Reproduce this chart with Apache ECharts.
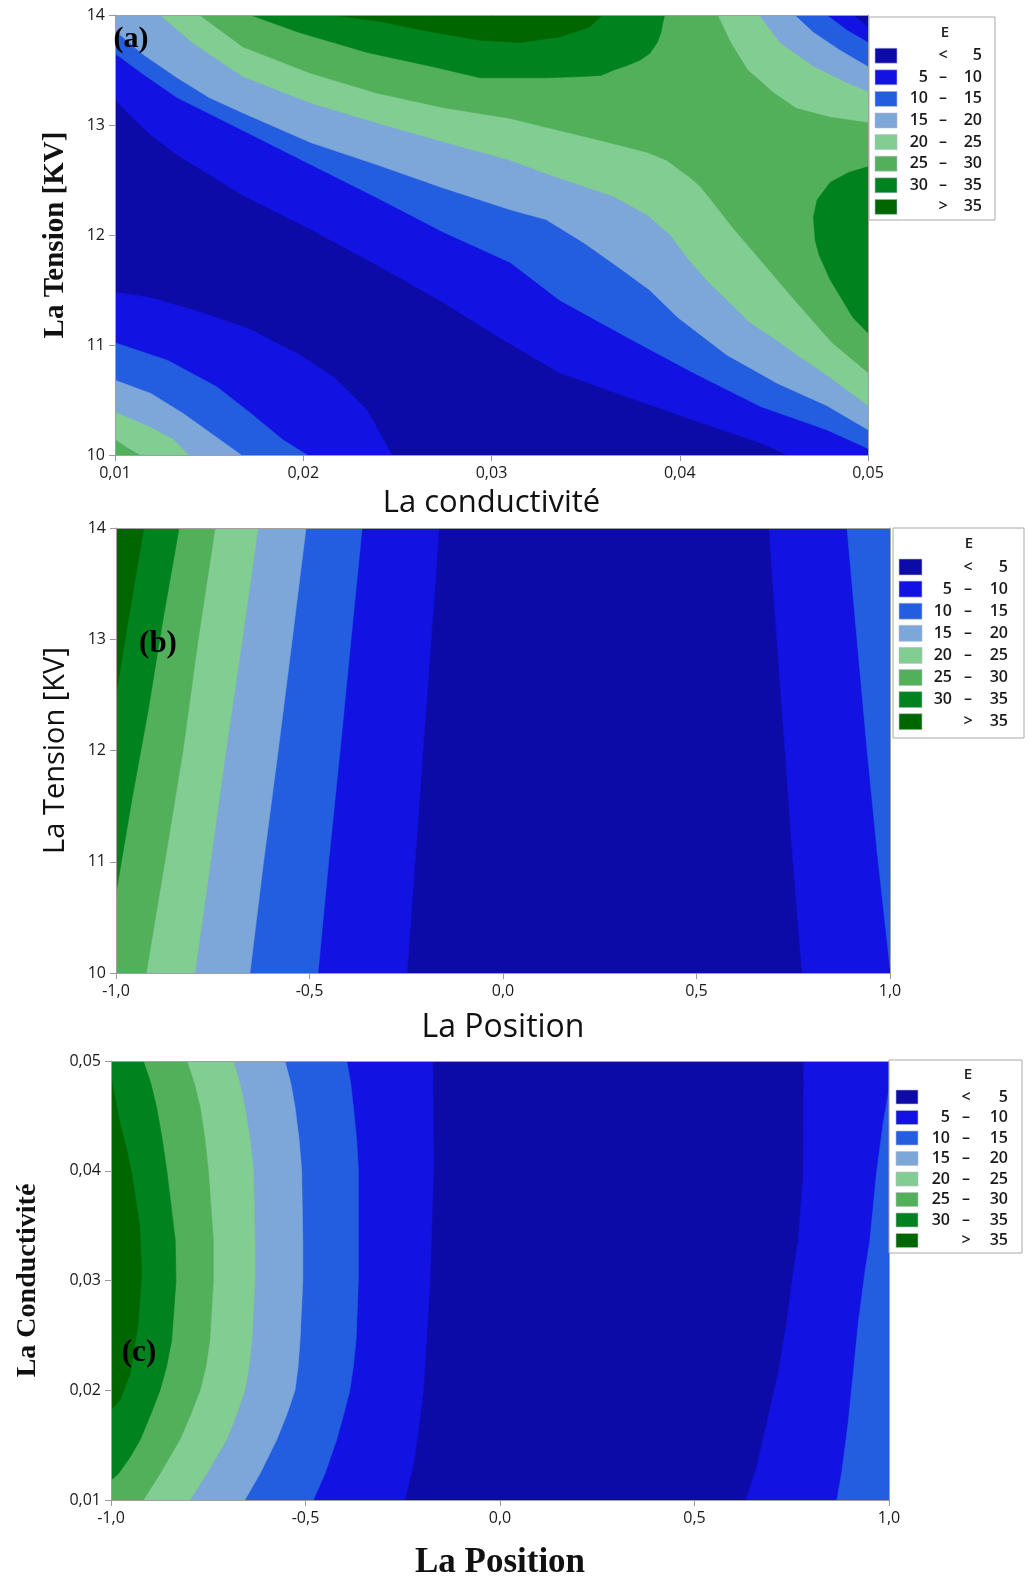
<!DOCTYPE html>
<html><head><meta charset="utf-8">
<script src="https://cdn.jsdelivr.net/npm/echarts@6/dist/echarts.min.js"></script>
<style>html,body{margin:0;padding:0;background:#fff}#c{width:1029px;height:1579px}</style>
</head><body><div id="c"></div>
<script>
// ---------- legend / levels ----------
const legendTitle = 'E';
const levels = [5, 10, 15, 20, 25, 30, 35];
const bandColors = ['#0D0BA8', '#1212E2', '#235EE0', '#7DA6D9', '#82CD92', '#52B05B', '#00821F', '#006700'];

// ---------- panel (a): conductivité (x) vs tension (y) ----------
const aXRange = [0.01, 0.05], aXStep = 0.01;
const aYRange = [10, 14], aYStep = 1;
const aC5lo  = [[0.0100,11.48],[0.0119,11.43],[0.0145,11.30],[0.0172,11.14],[0.0198,10.91],[0.0216,10.71],[0.0234,10.41],[0.0247,10.00]];
const aC10lo = [[0.0100,11.02],[0.0128,10.86],[0.0154,10.62],[0.0172,10.38],[0.0189,10.14],[0.0202,10.00]];
const aC15lo = [[0.0100,10.68],[0.0119,10.56],[0.0136,10.38],[0.0154,10.16],[0.0167,10.00]];
const aC20lo = [[0.0100,10.39],[0.0119,10.25],[0.0131,10.14],[0.0139,10.00]];
const aC25lo = [[0.0100,10.14],[0.0106,10.07],[0.0113,10.00]];
const aC5up  = [[0.0100,13.23],[0.0108,13.09],[0.0119,12.91],[0.0133,12.73],[0.0150,12.55],[0.0168,12.36],[0.0204,12.05],[0.0239,11.73],[0.0274,11.39],[0.0305,11.06],[0.0336,10.75],[0.0372,10.53],[0.0407,10.32],[0.0443,10.11],[0.0457,10.00]];
const aC10up = [[0.0100,13.65],[0.0116,13.45],[0.0133,13.25],[0.0168,12.95],[0.0204,12.64],[0.0239,12.34],[0.0274,12.03],[0.0310,11.75],[0.0336,11.41],[0.0372,11.07],[0.0407,10.75],[0.0443,10.44],[0.0478,10.23],[0.0500,10.06]];
const aC15up = [[0.0100,13.86],[0.0115,13.64],[0.0133,13.43],[0.0150,13.25],[0.0168,13.11],[0.0204,12.84],[0.0239,12.64],[0.0274,12.43],[0.0310,12.23],[0.0329,12.14],[0.0349,11.93],[0.0368,11.70],[0.0384,11.50],[0.0399,11.25],[0.0425,10.91],[0.0452,10.65],[0.0478,10.45],[0.0500,10.23]];
const aC20up = [[0.0124,14.00],[0.0141,13.75],[0.0168,13.44],[0.0204,13.20],[0.0239,13.02],[0.0274,12.85],[0.0310,12.68],[0.0329,12.56],[0.0365,12.35],[0.0383,12.18],[0.0395,12.00],[0.0405,11.77],[0.0416,11.56],[0.0427,11.38],[0.0437,11.21],[0.0451,11.05],[0.0464,10.89],[0.0478,10.73],[0.0500,10.45]];
const aC25up = [[0.0145,14.00],[0.0168,13.71],[0.0204,13.47],[0.0239,13.29],[0.0274,13.16],[0.0310,13.06],[0.0329,12.98],[0.0358,12.86],[0.0383,12.75],[0.0393,12.68],[0.0400,12.59],[0.0405,12.53],[0.0411,12.44],[0.0418,12.29],[0.0428,12.07],[0.0446,11.71],[0.0464,11.35],[0.0481,11.02],[0.0500,10.75]];
const aC30top = [[0.0172,14.00],[0.0198,13.84],[0.0234,13.66],[0.0269,13.53],[0.0294,13.43],[0.0311,13.43],[0.0329,13.43],[0.0347,13.44],[0.0358,13.45],[0.0365,13.50],[0.0372,13.54],[0.0379,13.59],[0.0384,13.65],[0.0388,13.75],[0.0390,13.84],[0.0391,13.93],[0.0392,14.00]];
const aC30lobe = [[0.0500,12.62],[0.0490,12.57],[0.0480,12.48],[0.0473,12.32],[0.0471,12.16],[0.0472,11.95],[0.0474,11.82],[0.0480,11.59],[0.0485,11.45],[0.0492,11.25],[0.0500,11.11]];
const aC35 = [[0.0216,14.00],[0.0241,13.94],[0.0267,13.85],[0.0294,13.77],[0.0315,13.75],[0.0336,13.80],[0.0352,13.89],[0.0359,14.00]];
const aC25ur = [[0.0420,14.00],[0.0427,13.75],[0.0436,13.50],[0.0450,13.29],[0.0462,13.15],[0.0480,13.07],[0.0500,13.02]];
const aC20ur = [[0.0442,14.00],[0.0453,13.75],[0.0471,13.53],[0.0489,13.38],[0.0500,13.30]];
const aC15ur = [[0.0461,14.00],[0.0471,13.84],[0.0485,13.68],[0.0500,13.53]];
const aC10ur = [[0.0478,14.00],[0.0489,13.86],[0.0500,13.75]];
const aC5ur  = [[0.0492,14.00],[0.0500,13.89]];

// ---------- panel (b): position (x) vs tension (y) ----------
const bXRange = [-1, 1], bXStep = 0.5;
const bYRange = [10, 14], bYStep = 1;
const bC35 = [[-0.928,14.00],[-0.951,13.53],[-0.977,12.99],[-1.000,12.50]];
const bC30 = [[-0.837,14.00],[-0.879,13.17],[-0.917,12.36],[-0.959,11.56],[-1.000,10.72]];
const bC25 = [[-0.744,14.00],[-0.788,12.99],[-0.827,12.00],[-0.873,11.02],[-0.922,10.00]];
const bC20 = [[-0.633,14.00],[-0.674,12.99],[-0.716,12.00],[-0.755,11.02],[-0.796,10.00]];
const bC15 = [[-0.509,14.00],[-0.545,12.99],[-0.581,12.00],[-0.618,11.02],[-0.654,10.00]];
const bC10L = [[-0.364,14.00],[-0.393,12.99],[-0.421,12.00],[-0.450,11.02],[-0.478,10.00]];
const bC5L  = [[-0.165,14.00],[-0.186,12.99],[-0.207,12.00],[-0.227,11.02],[-0.248,10.00]];
const bC5R  = [[0.687,14.00],[0.708,12.99],[0.729,12.00],[0.749,11.02],[0.773,10.00]];
const bC10R = [[0.889,14.00],[0.915,12.99],[0.941,12.00],[0.969,11.02],[1.000,10.05]];

// ---------- panel (c): position (x) vs conductivité (y) ----------
const cXRange = [-1, 1], cXStep = 0.5;
const cYRange = [0.01, 0.05], cYStep = 0.01;
const cC35 = [[-1.000,0.0486],[-0.977,0.0443],[-0.960,0.0420],[-0.947,0.0398],[-0.927,0.0352],[-0.921,0.0307],[-0.930,0.0261],[-0.951,0.0215],[-0.977,0.0191],[-1.000,0.0182]];
const cC30 = [[-0.917,0.0500],[-0.898,0.0480],[-0.883,0.0458],[-0.869,0.0430],[-0.857,0.0401],[-0.835,0.0337],[-0.833,0.0300],[-0.844,0.0246],[-0.857,0.0222],[-0.874,0.0200],[-0.898,0.0178],[-0.925,0.0155],[-0.951,0.0139],[-0.981,0.0124],[-1.000,0.0118]];
const cC25 = [[-0.805,0.0500],[-0.786,0.0480],[-0.771,0.0458],[-0.759,0.0430],[-0.750,0.0401],[-0.737,0.0337],[-0.737,0.0300],[-0.746,0.0246],[-0.756,0.0222],[-0.771,0.0200],[-0.795,0.0178],[-0.823,0.0155],[-0.874,0.0124],[-0.917,0.0100]];
const cC20 = [[-0.686,0.0500],[-0.669,0.0480],[-0.656,0.0458],[-0.643,0.0430],[-0.634,0.0401],[-0.630,0.0337],[-0.630,0.0300],[-0.638,0.0246],[-0.645,0.0222],[-0.656,0.0200],[-0.677,0.0178],[-0.703,0.0155],[-0.754,0.0124],[-0.797,0.0100]];
const cC15 = [[-0.553,0.0500],[-0.538,0.0480],[-0.527,0.0458],[-0.517,0.0430],[-0.510,0.0401],[-0.507,0.0337],[-0.507,0.0300],[-0.514,0.0246],[-0.519,0.0222],[-0.527,0.0200],[-0.548,0.0178],[-0.574,0.0155],[-0.617,0.0124],[-0.656,0.0100]];
const cC10L = [[-0.394,0.0500],[-0.384,0.0480],[-0.377,0.0458],[-0.369,0.0430],[-0.364,0.0401],[-0.364,0.0337],[-0.364,0.0300],[-0.370,0.0246],[-0.377,0.0222],[-0.386,0.0200],[-0.402,0.0178],[-0.420,0.0155],[-0.450,0.0124],[-0.480,0.0100]];
const cC5L  = [[-0.173,0.0500],[-0.171,0.0401],[-0.180,0.0300],[-0.197,0.0200],[-0.219,0.0139],[-0.244,0.0100]];
const cC5R  = [[0.781,0.0500],[0.780,0.0398],[0.767,0.0337],[0.754,0.0307],[0.737,0.0261],[0.715,0.0215],[0.686,0.0170],[0.660,0.0130],[0.632,0.0100]];
const cC10R = [[1.000,0.0474],[0.985,0.0443],[0.968,0.0398],[0.951,0.0337],[0.938,0.0307],[0.921,0.0261],[0.908,0.0215],[0.895,0.0170],[0.878,0.0124],[0.866,0.0100]];

// ---------- texts ----------
const panelLabels = ['(a)', '(b)', '(c)'];
const xNames = ['La conductivité', 'La Position', 'La Position'];
const yNames = ['La Tension [KV]', 'La Tension [KV]', 'La Conductivité'];

// ---------- helpers ----------
const rev = a => ({ rev: a });
function buildPolygon(parts, xr, yr) {
  const pts = [];
  parts.forEach(p => {
    if (typeof p === 'string') {
      pts.push([p[1] === 'l' ? xr[0] : xr[1], p[0] === 't' ? yr[1] : yr[0]]);
    } else if (p.rev) {
      for (let i = p.rev.length - 1; i >= 0; i--) pts.push(p.rev[i]);
    } else {
      p.forEach(q => pts.push(q));
    }
  });
  return pts;
}
const FULL = ['tl', 'tr', 'br', 'bl'];
const regionsA = [
  { band: 0, parts: FULL },
  { band: 1, parts: [aC5lo, 'bl'] }, { band: 1, parts: ['tl', aC5ur, 'br', rev(aC5up)] },
  { band: 2, parts: [aC10lo, 'bl'] }, { band: 2, parts: ['tl', aC10ur, rev(aC10up)] },
  { band: 3, parts: [aC15lo, 'bl'] }, { band: 3, parts: ['tl', aC15ur, rev(aC15up)] },
  { band: 4, parts: [aC20lo, 'bl'] }, { band: 4, parts: [aC20ur, rev(aC20up)] },
  { band: 5, parts: [aC25lo, 'bl'] }, { band: 5, parts: [aC25ur, rev(aC25up)] },
  { band: 6, parts: [aC30top] }, { band: 6, parts: [aC30lobe] },
  { band: 7, parts: [aC35] }
];
const regionsB = [
  { band: 0, parts: FULL },
  { band: 1, parts: ['tl', bC5L, 'bl'] }, { band: 1, parts: [bC5R, 'br', 'tr'] },
  { band: 2, parts: ['tl', bC10L, 'bl'] }, { band: 2, parts: [bC10R, 'tr'] },
  { band: 3, parts: ['tl', bC15, 'bl'] },
  { band: 4, parts: ['tl', bC20, 'bl'] },
  { band: 5, parts: ['tl', bC25, 'bl'] },
  { band: 6, parts: ['tl', bC30] },
  { band: 7, parts: ['tl', bC35] }
];
const regionsC = [
  { band: 0, parts: FULL },
  { band: 1, parts: ['tl', cC5L, 'bl'] }, { band: 1, parts: [cC5R, 'br', 'tr'] },
  { band: 2, parts: ['tl', cC10L, 'bl'] }, { band: 2, parts: ['tr', cC10R, 'br'] },
  { band: 3, parts: ['tl', cC15, 'bl'] },
  { band: 4, parts: ['tl', cC20, 'bl'] },
  { band: 5, parts: ['tl', cC25, 'bl'] },
  { band: 6, parts: ['tl', cC30] },
  { band: 7, parts: [cC35] }
];

function contourSeries(gi, regions, xr, yr) {
  const polys = regions.map(r => ({ band: r.band, pts: buildPolygon(r.parts, xr, yr) }));
  return {
    type: 'custom', xAxisIndex: gi * 2, yAxisIndex: gi * 2, clip: true, silent: true, z: 2,
    data: polys.map((p, i) => [i]),
    renderItem: (params, api) => {
      const p = polys[params.dataIndex];
      return {
        type: 'polygon', z2: params.dataIndex,
        shape: { points: p.pts.map(q => api.coord(q)) },
        style: { fill: bandColors[p.band], stroke: bandColors[p.band], lineWidth: 0.6 }
      };
    }
  };
}

const fmtComma = d => v => Number(v).toFixed(d).replace('.', ',');
const axisLineStyle = { show: true, onZero: false, lineStyle: { color: '#A0A0A0', width: 1 } };
const tickStyle = { show: true, length: 6, lineStyle: { color: '#9A9A9A' } };
const labelBase = { fontFamily: 'Open Sans', fontSize: 16, color: '#1a1a1a', margin: 10, showMinLabel: true, showMaxLabel: true };
const SANS = 'Open Sans', SERIF = 'Liberation Serif';

function axesFor(gi, xr, xs, xfmt, yr, ys, yfmt, xNameStyle, xGap, yNameStyle, yGap) {
  const xs1 = {
    type: 'value', gridIndex: gi, min: xr[0], max: xr[1], interval: xs, z: 10,
    axisLine: axisLineStyle, axisTick: tickStyle, splitLine: { show: false },
    axisLabel: Object.assign({ formatter: xfmt }, labelBase),
    name: xNames[gi], nameLocation: 'middle', nameGap: xGap, nameTextStyle: xNameStyle
  };
  const xs2 = {
    type: 'value', gridIndex: gi, position: 'top', min: xr[0], max: xr[1], interval: xs, z: 10,
    axisLine: axisLineStyle, axisTick: { show: false }, axisLabel: { show: false }, splitLine: { show: false }
  };
  const ys1 = {
    type: 'value', gridIndex: gi, min: yr[0], max: yr[1], interval: ys, z: 10,
    axisLine: axisLineStyle, axisTick: tickStyle, splitLine: { show: false },
    axisLabel: Object.assign({ formatter: yfmt }, labelBase),
    name: yNames[gi], nameLocation: 'middle', nameGap: yGap, nameTextStyle: yNameStyle
  };
  const ys2 = {
    type: 'value', gridIndex: gi, position: 'right', min: yr[0], max: yr[1], interval: ys, z: 10,
    axisLine: axisLineStyle, axisTick: { show: false }, axisLabel: { show: false }, splitLine: { show: false }
  };
  return { x: [xs1, xs2], y: [ys1, ys2] };
}

const ax = [
  axesFor(0, aXRange, aXStep, fmtComma(2), aYRange, aYStep, v => String(Math.round(v)),
    { fontFamily: SANS, fontSize: 31, color: '#111' }, 33,
    { fontFamily: SERIF, fontWeight: 'bold', fontSize: 29, color: '#111' }, 45),
  axesFor(1, bXRange, bXStep, fmtComma(1), bYRange, bYStep, v => String(Math.round(v)),
    { fontFamily: SANS, fontSize: 32, color: '#111' }, 39,
    { fontFamily: SANS, fontSize: 29, color: '#111' }, 46),
  axesFor(2, cXRange, cXStep, fmtComma(1), cYRange, cYStep, fmtComma(2),
    { fontFamily: SERIF, fontWeight: 'bold', fontSize: 35, color: '#111' }, 45,
    { fontFamily: SERIF, fontWeight: 'bold', fontSize: 28, color: '#111' }, 69)
];

// ---------- legends (layout) ----------
const legendLayouts = [
  { left: 869, top: 17, width: 126, height: 203, titleX: 945, titleY: 33, swX: 875, swW: 22, swH: 15, row0: 55.7, step: 21.6, numL: 928, dash: 943, numR: 982 },
  { left: 893, top: 528, width: 131, height: 210, titleX: 969, titleY: 544, swX: 899, swW: 23, swH: 16, row0: 567, step: 22.1, numL: 952, dash: 968, numR: 1008 },
  { left: 889, top: 1060, width: 133, height: 193, titleX: 968, titleY: 1075, swX: 896, swW: 22, swH: 14, row0: 1097, step: 20.5, numL: 950, dash: 966, numR: 1008 }
];
const legLow = [''].concat(levels.slice(0, levels.length - 1).map(String), ['']);
const legSep = ['<'].concat(levels.slice(1).map(() => '–'), ['>']);
const legHigh = levels.map(String).concat([String(levels[levels.length - 1])]);

const graphics = [];
legendLayouts.forEach(L => {
  graphics.push({ type: 'rect', z: 100, shape: { x: L.left, y: L.top, width: L.width, height: L.height }, style: { fill: '#fff', stroke: '#A8A8A8', lineWidth: 1 } });
  graphics.push({ type: 'text', z: 101, x: L.titleX, y: L.titleY, style: { text: legendTitle, fontFamily: SANS, fontSize: 15, fontWeight: 600, fill: '#222', align: 'center', verticalAlign: 'middle' } });
  for (let i = 0; i < bandColors.length; i++) {
    const cy = L.row0 + i * L.step;
    graphics.push({ type: 'rect', z: 101, shape: { x: L.swX, y: cy - L.swH / 2, width: L.swW, height: L.swH }, style: { fill: bandColors[i], stroke: '#B8B8D0', lineWidth: 0.6 } });
    const ts = { fontFamily: SANS, fontSize: 16, fontWeight: 600, fill: '#1a1a1a', verticalAlign: 'middle' };
    graphics.push({ type: 'text', z: 101, x: L.numL, y: cy, style: Object.assign({ text: legLow[i], align: 'right' }, ts) });
    graphics.push({ type: 'text', z: 101, x: L.dash, y: cy, style: Object.assign({ text: legSep[i], align: 'center' }, ts) });
    graphics.push({ type: 'text', z: 101, x: L.numR, y: cy, style: Object.assign({ text: legHigh[i], align: 'right' }, ts) });
  }
});
const panelLabelPos = [[131, 39, 30], [158, 644, 31], [139, 1353, 31]];
panelLabels.forEach((t, i) => {
  graphics.push({ type: 'text', z: 100, x: panelLabelPos[i][0], y: panelLabelPos[i][1], style: { text: t, fontFamily: SERIF, fontWeight: 'bold', fontSize: panelLabelPos[i][2], fill: '#000', align: 'center', verticalAlign: 'middle' } });
});

const chart = echarts.init(document.getElementById('c'), null, { renderer: 'canvas', width: 1029, height: 1579 });
chart.setOption({
  animation: false,
  backgroundColor: '#fff',
  grid: [
    { left: 115, top: 15, width: 753, height: 440, outerBoundsMode: 'none', containLabel: false },
    { left: 116, top: 528, width: 774, height: 445, outerBoundsMode: 'none', containLabel: false },
    { left: 111, top: 1061, width: 778, height: 439, outerBoundsMode: 'none', containLabel: false }
  ],
  xAxis: [].concat(ax[0].x, ax[1].x, ax[2].x),
  yAxis: [].concat(ax[0].y, ax[1].y, ax[2].y),
  series: [
    contourSeries(0, regionsA, aXRange, aYRange),
    contourSeries(1, regionsB, bXRange, bYRange),
    contourSeries(2, regionsC, cXRange, cYRange)
  ],
  graphic: graphics
});
</script>
</body></html>
